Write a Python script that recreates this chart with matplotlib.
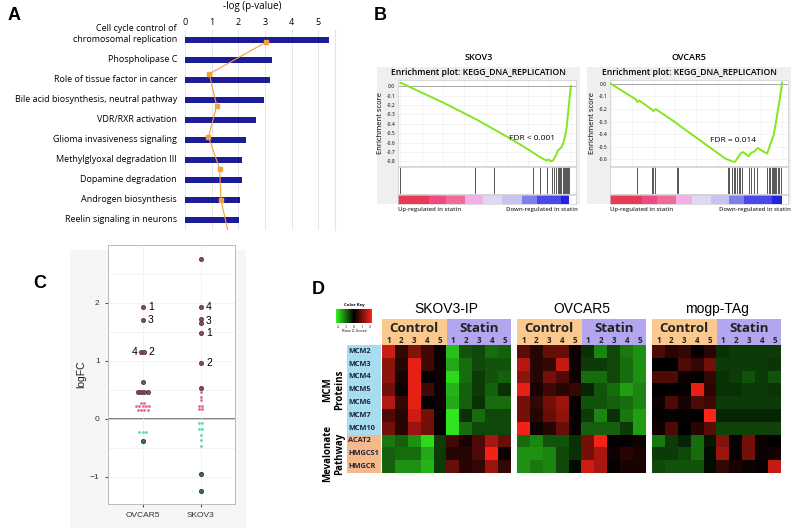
import numpy as np
import matplotlib
matplotlib.use("Agg")
import matplotlib.pyplot as plt
from matplotlib.colors import LinearSegmentedColormap
from matplotlib.patches import Rectangle

plt.rcParams['font.family'] = ['Open Sans', 'DejaVu Sans']

# ---- data: panel A (IPA pathways) ----
a_pathways = ["Cell cycle control of\nchromosomal replication", "Phospholipase C",
              "Role of tissue factor in cancer", "Bile acid biosynthesis, neutral pathway",
              "VDR/RXR activation", "Glioma invasiveness signaling",
              "Methylglyoxal degradation III", "Dopamine degradation",
              "Androgen biosynthesis", "Reelin signaling in neurons"]
a_logp = [5.4, 3.25, 3.2, 2.98, 2.65, 2.28, 2.15, 2.15, 2.05, 2.03]
a_ratio = [3.03, 0.91, 1.19, 0.88, 1.30, 1.35, 1.62]

# ---- data: panel B (GSEA KEGG_DNA_REPLICATION) ----
skov3_rank = [0.0, 0.02, 0.245, 0.441, 0.637, 0.755, 0.814, 0.843, 0.859, 0.869, 0.882,
              0.896, 0.912, 0.925, 0.941, 0.955, 0.965, 0.975, 0.984, 0.994, 1.0]
skov3_es = [0.035, 0.02, -0.17, -0.35, -0.55, -0.68, -0.75, -0.78, -0.79, -0.78, -0.80,
            -0.79, -0.74, -0.68, -0.66, -0.61, -0.54, -0.44, -0.28, -0.10, 0.0]
skov3_hits = [0.0, 0.437, 0.549, 0.778, 0.818, 0.859, 0.892, 0.902, 0.912, 0.922, 0.928,
              0.935, 0.941, 0.951, 0.957, 0.965, 0.971, 0.976, 0.982, 0.990]

ovcar5_rank = [0.0, 0.146, 0.155, 0.165, 0.239, 0.249, 0.262, 0.383, 0.394, 0.670, 0.709,
               0.724, 0.738, 0.757, 0.771, 0.806, 0.821, 0.839, 0.858, 0.880, 0.913,
               0.926, 0.938, 0.951, 0.965, 0.977, 0.986, 1.0]
ovcar5_es = [0.0, -0.124, -0.145, -0.132, -0.204, -0.217, -0.201, -0.312, -0.325, -0.595,
             -0.616, -0.621, -0.595, -0.555, -0.542, -0.576, -0.547, -0.537, -0.510, -0.529,
             -0.555, -0.502, -0.457, -0.410, -0.304, -0.198, -0.132, 0.008]
ovcar5_hits = [0.155, 0.243, 0.249, 0.256, 0.384, 0.390, 0.685, 0.693, 0.709, 0.718, 0.728,
               0.738, 0.748, 0.757, 0.767, 0.806, 0.819, 0.835, 0.854, 0.913, 0.922, 0.932,
               0.942, 0.948, 0.953, 0.961, 0.967, 0.977, 0.984, 0.992]

# ---- data: panel C (logFC per cell line) ----
c_lines = ["OVCAR5", "SKOV3"]
c_big_up = {"OVCAR5": [1.93, 1.71, 1.15, 1.15, 0.64, 0.46, 0.46, 0.46, 0.46],
            "SKOV3": [2.76, 1.93, 1.72, 1.66, 1.48, 0.97, 0.54]}
c_small_up = {"OVCAR5": [0.27, 0.27, 0.22, 0.22, 0.22, 0.22, 0.22, 0.155, 0.155, 0.155, 0.155],
              "SKOV3": [0.46, 0.38, 0.32, 0.23, 0.23, 0.18, 0.18]}
c_small_down = {"OVCAR5": [-0.22, -0.22, -0.22],
                "SKOV3": [-0.07, -0.07, -0.17, -0.17, -0.28, -0.36, -0.46]}
c_big_down = {"OVCAR5": [-0.38], "SKOV3": [-0.95, -1.24]}
c_labels = [("OVCAR5", 1.93, "1", "r"), ("OVCAR5", 1.71, "3", "r"),
            ("OVCAR5", 1.15, "4", "l"), ("OVCAR5", 1.15, "2", "r"),
            ("SKOV3", 1.93, "4", "r"), ("SKOV3", 1.69, "3", "r"),
            ("SKOV3", 1.48, "1", "r"), ("SKOV3", 0.97, "2", "r")]

# ---- data: panel D (row z-scores) ----
d_genes = ["MCM2", "MCM3", "MCM4", "MCM5", "MCM6", "MCM7", "MCM10", "ACAT2", "HMGCS1", "HMGCR"]
d_titles = ["SKOV3-IP", "OVCAR5", "mogp-TAg"]
skov3ip_z = [
    [1.6, 0.4, 1.0, 0.5, 0.1, -1.6, -0.7, -0.6, -0.9, -0.8],
    [1.1, 0.3, 1.8, 0.5, 0.1, -1.4, -0.9, -0.6, -0.7, -0.7],
    [1.1, 0.2, 1.8, 0.05, 0.1, -1.8, -0.9, -0.5, -0.7, -0.8],
    [0.9, 0.1, 1.8, 0.5, 0.1, -1.5, -0.8, -0.5, -0.8, -0.4],
    [1.4, 0.4, 1.8, 0.05, 0.1, -1.4, -0.8, -0.4, -0.9, -0.9],
    [0.6, 0.3, 1.6, 0.9, 0.05, -1.9, -0.4, -0.9, -0.6, -0.6],
    [0.9, 0.3, 1.2, 0.9, 0.05, -1.9, -0.9, -0.6, -0.6, -0.6],
    [-1.0, -0.8, -1.2, -1.8, -0.5, 0.5, 0.2, 0.6, 1.3, 0.8],
    [-0.8, -0.9, -0.9, -1.4, -0.5, 0.3, 0.3, 0.6, 1.9, 0.1],
    [-0.8, -1.2, -1.2, -1.5, -0.5, 0.8, 0.3, 0.4, 1.2, 0.4]]
ovcar5_z = [
    [0.7, 0.3, 0.8, 0.8, 0.1, -0.4, -1.1, -0.6, -1.0, -1.2],
    [1.4, 0.3, 0.4, 1.5, 0.1, -0.5, -0.5, -0.6, -0.9, -1.2],
    [1.1, 0.3, 0.9, 0.6, 0.1, -0.9, -0.9, -0.6, -0.9, -1.2],
    [1.8, 0.2, 0.5, 0.3, 0.4, -0.3, -0.7, -0.9, -1.3, -1.1],
    [0.9, 0.4, 0.9, 1.2, 0.05, -0.7, -0.7, -0.8, -0.9, -1.1],
    [0.9, 0.3, 0.8, 1.1, 0.05, -0.5, -1.1, -0.4, -1.0, -1.3],
    [1.9, 0.1, 0.3, 0.8, 0.05, -0.8, -0.8, -0.8, -0.5, -1.3],
    [-0.9, -1.1, -0.7, -0.7, -0.4, 0.9, 1.9, 0.05, 0.05, 0.1],
    [-1.2, -1.2, -1.1, -0.6, -0.4, 0.9, 1.3, 0.1, 0.3, 0.2],
    [-1.2, -1.0, -1.1, -0.6, -0.1, 1.6, 1.3, 0.05, 0.2, 0.2]]
mogp_z = [
    [0.6, 0.3, 0.4, 0.05, 0.3, -0.4, -0.5, -0.5, -0.5, -0.5],
    [0.0, 0.0, 0.6, 0.4, 0.9, -0.5, -0.5, -0.5, -0.5, -0.45],
    [0.6, 0.6, 0.1, 0.05, 0.4, -0.4, -0.5, -0.7, -0.5, -0.7],
    [0.0, 0.0, 0.05, 1.8, 0.35, -0.4, -0.4, -0.5, -0.5, -0.45],
    [0.1, 0.6, 0.2, 0.6, 0.5, -0.5, -0.5, -0.5, -0.5, -0.5],
    [0.05, 0.05, 0.05, 0.0, 2.0, -0.3, -0.3, -0.3, -0.3, -0.3],
    [0.1, 0.6, 0.0, 0.3, 0.7, -0.55, -0.55, -0.55, -0.55, -0.55],
    [-1.0, -0.5, -0.3, -0.9, -0.2, 1.0, 0.05, 0.9, 0.1, 0.0],
    [-0.5, -0.5, -0.6, -0.9, -0.1, 1.2, 0.05, 0.9, 0.1, 0.15],
    [-0.6, -0.7, -0.7, -0.7, -0.1, 0.4, 0.2, 0.1, 0.05, 1.5]]

W, H = 800, 528
fig = plt.figure(figsize=(8, 5.28), dpi=100)


def box(x0, y0, x1, y1):
    return [x0 / W, 1 - y1 / H, (x1 - x0) / W, (y1 - y0) / H]


def ftext(x, y, s, **kw):
    kw.setdefault("ha", "center")
    kw.setdefault("va", "center")
    return fig.text(x / W, 1 - y / H, s, **kw)


def frect(x0, y0, x1, y1, color, z=0):
    fig.add_artist(Rectangle((x0 / W, 1 - y1 / H), (x1 - x0) / W, (y1 - y0) / H,
                             transform=fig.transFigure, color=color, zorder=z, lw=0))


for lab, x, y in [("A", 14, 16), ("B", 380, 16), ("C", 40, 283), ("D", 318, 290)]:
    ftext(x, y, lab, fontsize=13, fontweight="bold", family="Liberation Sans")

# ================= A =================
ax = fig.add_axes(box(185, 30, 335, 230))
yy = np.arange(len(a_pathways))
ax.barh(yy, a_logp, height=0.3, color="#1c1c96", zorder=3)
ax.set_ylim(9.5, -0.5)
ax.set_xlim(0, 5.63)
ax.xaxis.tick_top()
ax.set_xticks(range(6))
ax.tick_params(axis="x", labelsize=6.5, length=0, pad=2)
ax.set_yticks([])
# multi-line labels keep their last line level with the bar
for i, name in enumerate(a_pathways):
    nl = name.count("\n")
    ax.text(-0.3, i - 0.3 * nl, name, ha="right", va="center", fontsize=6.5,
            linespacing=1.3, transform=ax.transData, clip_on=False)
ax.grid(axis="x", color="#e2e2e2", lw=0.6, zorder=0)
for s in ["top", "bottom", "left"]:
    ax.spines[s].set_visible(False)
ax.spines["right"].set_color("#e2e2e2")
ftext(252, 6, "-log (p-value)", fontsize=7)
ax2 = ax.twinx()
ax2.set_ylim(5.94, -0.39)
ax2.plot(a_ratio, np.arange(len(a_ratio)), color="#f2a23a", lw=0.8, marker="s",
         markersize=2.5, markevery=slice(0, 6), zorder=4)
ax2.axis("off")

# ================= B =================
seg_colors = ["#e63a55", "#ee4a85", "#f06a9a", "#f5aee8", "#dcd8f5", "#c8c4f2",
              "#7f7fec", "#4a48e8", "#2222e0"]


def draw_gsea(bx0, bx1, ax0, ax1, name, rank, es, hits, fdr, fdr_xy, ylim, yticks, xlim, edges,
              lab_left, lab_right):
    frect(bx0, 67, bx1, 204, "#efefef")
    ftext((bx0 + bx1) / 2, 58, name, fontsize=6.5, fontweight="semibold")
    ftext((bx0 + bx1) / 2, 73, "Enrichment plot: KEGG_DNA_REPLICATION", fontsize=6.2,
          fontweight="semibold")
    e = fig.add_axes(box(ax0, 80, ax1, 166))
    e.plot(rank, es, color="#84e61c", lw=1.4, zorder=3)
    e.axhline(0, color="#9a9a9a", lw=0.6)
    e.set_xlim(*xlim)
    e.set_ylim(*ylim)
    e.set_yticks(yticks, ["%.1f" % t for t in yticks])
    e.set_xticks(np.linspace(0, 1, 9))
    e.tick_params(axis="y", labelsize=3.6, length=0, pad=2)
    e.tick_params(axis="x", labelbottom=False, length=0)
    e.grid(color="#ececec", lw=0.4)
    e.set_ylabel("Enrichment score", fontsize=5.5, labelpad=2)
    for s in e.spines.values():
        s.set_color("#cccccc")
        s.set_linewidth(0.5)
    ftext(fdr_xy[0], fdr_xy[1], fdr, fontsize=6)
    h = fig.add_axes(box(ax0, 167, ax1, 194))
    h.vlines(hits, 0, 1, color="#3a3a3a", lw=0.6)
    h.set_xlim(*xlim)
    h.set_ylim(0, 1)
    h.set_xticks([])
    h.set_yticks([])
    for s in h.spines.values():
        s.set_color("#cccccc")
        s.set_linewidth(0.5)
    c = fig.add_axes(box(ax0, 195, ax1, 204))
    for i, col in enumerate(seg_colors):
        c.axvspan(edges[i], edges[i + 1], color=col, lw=0)
    c.set_xlim(*xlim)
    c.set_xticks([])
    c.set_yticks([])
    for s in c.spines.values():
        s.set_color("#cccccc")
        s.set_linewidth(0.5)
    ftext(lab_left, 210, "Up-regulated in statin", fontsize=4.3, ha="left",
          fontweight="semibold", color="#333333")
    ftext(lab_right, 210, "Down-regulated in statin", fontsize=4.3, ha="right",
          fontweight="semibold", color="#333333")


draw_gsea(377, 580, 398, 576, "SKOV3", skov3_rank, skov3_es, skov3_hits, "FDR < 0.001",
          (532, 138), (-0.85, 0.065), [0.0, -0.1, -0.2, -0.3, -0.4, -0.5, -0.6, -0.7, -0.8],
          (-0.014, 1.03), [-0.014, 0.167, 0.265, 0.378, 0.484, 0.594, 0.712, 0.8, 0.941, 0.99],
          398, 578)
draw_gsea(587, 791, 610, 788, "OVCAR5", ovcar5_rank, ovcar5_es, ovcar5_hits, "FDR = 0.014",
          (733, 140), (-0.653, 0.03), [0.0, -0.1, -0.2, -0.3, -0.4, -0.5, -0.6],
          (-0.005, 1.035), [-0.005, 0.184, 0.272, 0.379, 0.476, 0.583, 0.689, 0.777, 0.942, 1.0],
          610, 791)

# ================= C =================
frect(70, 250, 246, 528, "#f7f5f5")
c = fig.add_axes(box(108, 245, 235, 504))
c.set_xlim(0.4, 2.59)
c.set_ylim(-1.466, 3.0)
c.set_xticks([1, 2], c_lines)
c.set_yticks([-1, 0, 1, 2])
c.set_yticks([-0.5, 0.5, 1.5, 2.5], minor=True)
c.grid(which="both", color="#eeeeee", lw=0.5, zorder=0)
c.tick_params(which="major", labelsize=6, length=2.5, color="#555555", labelcolor="#333333")
c.tick_params(which="minor", length=0)
for lbl in c.get_xticklabels() + c.get_yticklabels():
    lbl.set_family("Liberation Sans")
c.set_ylabel("logFC", fontsize=7.5, family="Liberation Sans", color="#222222", labelpad=3)
for s in c.spines.values():
    s.set_color("#bbbbbb")
    s.set_linewidth(0.7)
c.axhline(0, color="#777777", lw=1.3, zorder=1)


def spread(vals, xc, d=0.057):
    xs = []
    for i, v in enumerate(vals):
        grp = [j for j, w in enumerate(vals) if w == v]
        k = grp.index(i)
        xs.append(xc + (k - (len(grp) - 1) / 2) * d)
    return xs


for i, line in enumerate(c_lines):
    xc = i + 1
    c.scatter(spread(c_small_up[line], xc), c_small_up[line], s=4, color="#e4668f", zorder=3, lw=0)
    c.scatter(spread(c_small_down[line], xc), c_small_down[line], s=4, color="#5fd4b4", zorder=3, lw=0)
    c.scatter(spread(c_big_up[line], xc), c_big_up[line], s=9, color="#8a4a62",
              edgecolor="#4a2436", lw=0.5, zorder=4)
    c.scatter(spread(c_big_down[line], xc), c_big_down[line], s=9, color="#3f6e60",
              edgecolor="#1f3a32", lw=0.6, zorder=4)
for line, v, t, side in c_labels:
    xc = c_lines.index(line) + 1
    if side == "r":
        c.text(xc + 0.09, v, t, fontsize=7.5, va="center", ha="left", family="Liberation Sans")
    else:
        c.text(xc - 0.09, v, t, fontsize=7.5, va="center", ha="right", family="Liberation Sans")

# ================= D =================
cmap = LinearSegmentedColormap.from_list("rg", ["#33f020", "#000000", "#ff2418"])
hm_x = [(382, 511), (517, 646), (652, 781)]
for (x0, x1), title, z in zip(hm_x, d_titles, [skov3ip_z, ovcar5_z, mogp_z]):
    hax = fig.add_axes(box(x0, 345, x1, 473))
    hax.imshow(np.array(z), cmap=cmap, vmin=-2, vmax=2, aspect="auto", interpolation="nearest")
    hax.axis("off")
    top = fig.add_axes(box(x0, 319, x1, 345))
    top.set_xlim(0, 10)
    top.set_ylim(1, 0)
    top.axvspan(0, 5, color="#fbc98e", lw=0)
    top.axvspan(5, 10, color="#b3a6ee", lw=0)
    top.text(2.5, 0.36, "Control", fontsize=9.5, fontweight="bold", ha="center", va="center",
             color="#222222")
    top.text(7.5, 0.36, "Statin", fontsize=9.5, fontweight="bold", ha="center", va="center",
             color="#222222")
    for k in range(10):
        top.text(k + 0.5, 0.82, str(k % 5 + 1), fontsize=5.8, fontweight="bold", ha="center",
                 va="center", color="#222222")
    top.axis("off")
    ftext((x0 + x1) / 2, 309, title, fontsize=10, family="Liberation Sans")

gl = fig.add_axes(box(347, 345, 381, 473))
gl.set_xlim(0, 1)
gl.set_ylim(10, 0)
gl.axhspan(0, 7, color="#a8dcef", lw=0)
gl.axhspan(7, 10, color="#f6b98c", lw=0)
for k, g in enumerate(d_genes):
    gl.text(0.04, k + 0.5, g, fontsize=5.3, fontweight="bold", va="center", ha="left",
            color="#1c2640")
gl.axis("off")
ftext(334, 390, "MCM\nProteins", rotation=90, fontsize=7, fontweight="bold", linespacing=1.1)
ftext(334, 454, "Mevalonate\nPathway", rotation=90, fontsize=7, fontweight="bold",
      linespacing=1.1)

ck = fig.add_axes(box(336, 309, 372, 323))
ck.imshow(np.linspace(-2, 2, 100)[None, :], cmap=cmap, aspect="auto", extent=(-2.3, 2.3, 0, 1))
ck.axis("off")
ftext(354, 305, "Color Key", fontsize=3.2, fontweight="bold")
for t in [-2, -1, 0, 1, 2]:
    ftext(354 + t * 7.8, 326.5, str(t), fontsize=2.6)
ftext(354, 330.5, "Row Z-Score", fontsize=3.2)

fig.savefig("out.png", dpi=100)
